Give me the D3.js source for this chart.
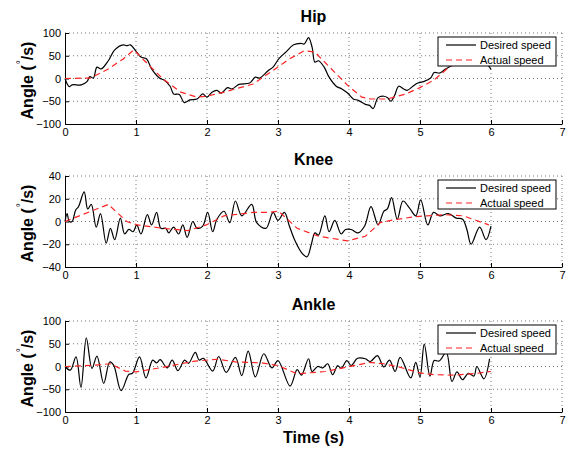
<!DOCTYPE html>
<html>
<head>
<meta charset="utf-8">
<script src="https://cdn.jsdelivr.net/npm/d3@7"></script>
<style>
  body { margin: 0; background: #fff; }
  svg { font-family: "Liberation Sans", Arial, Helvetica, sans-serif; }
  .tick text { font-size: 11px; fill: #000; }
  .domain { stroke: #000; }
</style>
</head>
<body>
<svg id="chart" width="569" height="450"></svg>
<script>
// ---- data ----
var xTicks = [0, 1, 2, 3, 4, 5, 6, 7];

var hipTime = [0, 0.06, 0.10, 0.23, 0.31, 0.35, 0.40, 0.45, 0.51, 0.61, 0.70, 0.82, 0.87, 0.92, 1.01, 1.07, 1.15, 1.22, 1.33, 1.40, 1.48, 1.53, 1.61, 1.68, 1.76, 1.86, 1.94, 2.00, 2.07, 2.14, 2.20, 2.29, 2.35, 2.45, 2.60, 2.68, 2.74, 2.86, 2.93, 3.01, 3.11, 3.22, 3.32, 3.37, 3.43, 3.48, 3.52, 3.57, 3.65, 3.72, 3.82, 3.90, 3.98, 4.06, 4.13, 4.23, 4.29, 4.34, 4.41, 4.49, 4.54, 4.59, 4.64, 4.70, 4.77, 4.82, 4.90, 4.97, 5.05, 5.15, 5.20, 5.28, 5.36, 5.50, 5.65, 5.80, 5.92, 6.00];
var hipDesired = [0, -18, -14, -14, -7, 4, 1, 25, 21, 39, 63, 74, 72, 74, 58, 47, 43, 21, 1, -4, -17, -34, -35, -53, -47, -45, -34, -41, -30, -26, -32, -20, -23, -13, -10, 3, 1, 17, 25, 43, 58, 74, 77, 76, 90, 69, 36, 39, 25, 3, -17, -23, -32, -45, -48, -57, -59, -66, -42, -39, -42, -50, -38, -17, -23, -26, -17, -10, -7, 1, 13, 12, 21, 32, 40, 42, 35, 20];
var hipActualTime = [0, 0.36, 0.61, 0.82, 0.97, 1.12, 1.38, 1.63, 1.86, 1.99, 2.24, 2.65, 2.96, 3.16, 3.37, 3.52, 3.67, 3.98, 4.18, 4.31, 4.54, 4.80, 5.00, 5.20, 5.41, 5.60, 5.80, 6.00];
var hipActual = [0, 1, 21, 43, 63, 39, -1, -30, -41, -39, -30, -12, 21, 43, 61, 58, 34, -15, -41, -45, -45, -34, -20, -3, 25, 42, 48, 45];

var kneeTime = [0, 0.03, 0.06, 0.10, 0.15, 0.19, 0.27, 0.32, 0.37, 0.44, 0.50, 0.58, 0.64, 0.70, 0.78, 0.84, 0.90, 0.96, 1.01, 1.07, 1.16, 1.22, 1.29, 1.35, 1.42, 1.46, 1.53, 1.60, 1.66, 1.72, 1.80, 1.86, 1.94, 2.01, 2.08, 2.14, 2.24, 2.32, 2.40, 2.49, 2.63, 2.70, 2.83, 2.93, 3.00, 3.09, 3.16, 3.24, 3.34, 3.41, 3.47, 3.52, 3.57, 3.66, 3.72, 3.80, 3.89, 3.95, 4.03, 4.13, 4.22, 4.31, 4.41, 4.49, 4.54, 4.60, 4.68, 4.76, 4.85, 4.94, 5.01, 5.11, 5.19, 5.28, 5.40, 5.51, 5.60, 5.66, 5.72, 5.84, 5.93, 6.00];
var kneeDesired = [0, 7, 0, 0, 10, 13, 26, 11, 15, -5, 7, -19, -6, -16, 3, -11, -7, -9, -3, -11, 6, -3, 8, -6, -6, -10, -5, -11, -3, -14, 0, -6, -4, 8, -9, 2, 9, -1, 18, 5, 15, -1, -6, 8, 1, 8, -4, -17, -28, -31, -20, -10, -12, 5, -9, 1, -11, -7, -7, -10, -4, 13, -3, 9, 11, 21, 2, 18, 12, 5, 19, -3, 8, 5, 7, 3, 2, -7, -20, -5, -16, -4];
var kneeActualTime = [0, 0.61, 0.87, 1.02, 1.38, 1.73, 1.99, 2.24, 2.65, 2.86, 3.01, 3.27, 3.57, 3.98, 4.23, 4.44, 4.59, 4.90, 5.10, 5.35, 5.61, 5.97];
var kneeActual = [0, 15, 0, -3, -6, -8, -3, 5, 8, 8, 9, -6, -13, -17, -13, -1, 1, 4, 5, 6, 5, -3];

var ankleTime = [0, 0.075, 0.155, 0.225, 0.30, 0.38, 0.45, 0.545, 0.63, 0.685, 0.79, 0.90, 0.95, 1.05, 1.14, 1.235, 1.29, 1.34, 1.44, 1.51, 1.59, 1.685, 1.74, 1.835, 1.89, 1.95, 2.08, 2.165, 2.27, 2.40, 2.49, 2.58, 2.68, 2.80, 2.915, 3.00, 3.17, 3.27, 3.33, 3.43, 3.48, 3.56, 3.63, 3.70, 3.77, 3.84, 3.89, 3.97, 4.03, 4.12, 4.23, 4.30, 4.40, 4.49, 4.57, 4.65, 4.72, 4.87, 4.94, 5.00, 5.06, 5.14, 5.20, 5.27, 5.37, 5.45, 5.52, 5.60, 5.68, 5.76, 5.80, 5.90, 5.98];
var ankleDesired = [0, -8, 21, -46, 63, -4, 23, -37, 10, 3, -53, -17, -15, 21, -25, 14, 8, 15, -3, 14, -9, 14, 7, 31, 14, 18, -10, 22, -13, 20, -20, 34, -23, 28, -3, 13, -43, -7, -19, 17, -11, 0, -3, 6, -18, 2, -4, 13, 2, 18, 17, 11, 24, -1, 14, -11, 20, -25, 9, -23, 49, -21, 13, 12, 31, -33, -12, -29, -15, -21, 0, -27, 17];
var ankleActualTime = [0, 0.43, 0.64, 0.85, 1.00, 1.37, 1.83, 2.16, 2.40, 2.77, 3.00, 3.27, 3.67, 3.98, 4.29, 4.49, 4.70, 5.00, 5.20, 5.50, 5.80, 6.00];
var ankleActual = [0, 3, 6, -10, -12, -2, 12, 16, 10, 8, 2, -16, -11, -1, 9, 6, -1, -14, -18, -19, -15, -11];

var panels = [
  { title: 'Hip',   yDomain: [-100, 100], yTicks: [-100, -50, 0, 50, 100], top: 33,  t: hipTime,   d: hipDesired,   ta: hipActualTime,   a: hipActual },
  { title: 'Knee',  yDomain: [-40, 40],   yTicks: [-40, -20, 0, 20, 40],   top: 176, t: kneeTime,  d: kneeDesired,  ta: kneeActualTime,  a: kneeActual },
  { title: 'Ankle', yDomain: [-100, 100], yTicks: [-100, -50, 0, 50, 100], top: 321, t: ankleTime, d: ankleDesired, ta: ankleActualTime, a: ankleActual }
];

var svg = d3.select('#chart');
var left = 65, right = 562, plotH = 91;
var x = d3.scaleLinear().domain([0, 7]).range([left, right]);

function fmt(v) { return v < 0 ? '\u2212' + Math.abs(v) : String(v); }

panels.forEach(function (p) {
  var y = d3.scaleLinear().domain(p.yDomain).range([p.top + plotH, p.top]);
  var g = svg.append('g');

  // grid (dotted)
  g.append('g').selectAll('line').data(xTicks.slice(1)).enter().append('line')
    .attr('x1', function (d) { return x(d); }).attr('x2', function (d) { return x(d); })
    .attr('y1', p.top).attr('y2', p.top + plotH)
    .attr('stroke', '#777').attr('stroke-width', 1).attr('stroke-dasharray', '1,3');
  g.append('g').selectAll('line').data(p.yTicks.slice(1)).enter().append('line')
    .attr('x1', left).attr('x2', right)
    .attr('y1', function (d) { return y(d); }).attr('y2', function (d) { return y(d); })
    .attr('stroke', '#777').attr('stroke-width', 1).attr('stroke-dasharray', '1,3');

  // axes
  g.append('g')
    .attr('transform', 'translate(0,' + (p.top + plotH) + ')')
    .call(d3.axisBottom(x).tickValues(xTicks).tickSizeInner(-4).tickSizeOuter(0).tickPadding(4).tickFormat(fmt));
  g.append('g')
    .attr('transform', 'translate(' + left + ',0)')
    .call(d3.axisLeft(y).tickValues(p.yTicks).tickSizeInner(-4).tickSizeOuter(0).tickPadding(4).tickFormat(fmt));

  // lines
  var actual = p.ta.map(function (t, i) { return [t, p.a[i]]; });
  var desired = p.t.map(function (t, i) { return [t, p.d[i]]; });
  var lineA = d3.line().x(function (d) { return x(d[0]); }).y(function (d) { return y(d[1]); });
  var lineD = d3.line().x(function (d) { return x(d[0]); }).y(function (d) { return y(d[1]); }).curve(d3.curveCatmullRom.alpha(0.5));
  g.append('path').attr('d', lineD(desired))
    .attr('fill', 'none').attr('stroke', '#000').attr('stroke-width', 1.2);
  g.append('path').attr('d', lineA(actual))
    .attr('fill', 'none').attr('stroke', '#f22').attr('stroke-width', 1.2).attr('stroke-dasharray', '6,4');

  // title
  svg.append('text').attr('x', (left + right) / 2).attr('y', p.top - 11)
    .attr('text-anchor', 'middle').attr('font-size', 16).attr('font-weight', 'bold').text(p.title);

  // y label
  var yl = svg.append('text')
    .attr('transform', 'translate(33,' + (p.top + plotH / 2 + 2) + ') rotate(-90)')
    .attr('text-anchor', 'middle').attr('font-size', 16).attr('font-weight', 'bold');
  yl.append('tspan').text('Angle (');
  yl.append('tspan').attr('dy', -9).attr('dx', 1).attr('font-size', 10).attr('font-weight', 'normal').text('\u00b0');
  yl.append('tspan').attr('dy', 9).attr('dx', 0).text('/s)');

  // legend
  var lg = svg.append('g').attr('transform', 'translate(438,' + (p.top + 4) + ')');
  lg.append('rect').attr('width', 118).attr('height', 29).attr('fill', '#fff').attr('stroke', '#000').attr('stroke-width', 1);
  lg.append('line').attr('x1', 8).attr('x2', 38).attr('y1', 8).attr('y2', 8).attr('stroke', '#000').attr('stroke-width', 1.2);
  lg.append('line').attr('x1', 8).attr('x2', 38).attr('y1', 23).attr('y2', 23).attr('stroke', '#f22').attr('stroke-width', 1.2).attr('stroke-dasharray', '6,4');
  lg.append('text').attr('x', 42).attr('y', 12).attr('font-size', 11).text('Desired speed');
  lg.append('text').attr('x', 42).attr('y', 27).attr('font-size', 11).text('Actual speed');
});

svg.append('text').attr('x', (left + right) / 2).attr('y', 443)
  .attr('text-anchor', 'middle').attr('font-size', 16).attr('font-weight', 'bold').text('Time (s)');
</script>
</body>
</html>
